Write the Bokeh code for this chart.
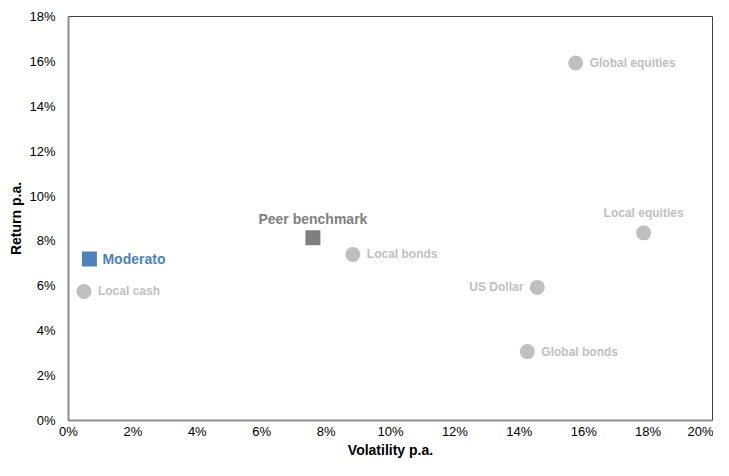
from bokeh.plotting import figure
from bokeh.models import ColumnDataSource, Range1d, PrintfTickFormatter, FixedTicker
from bokeh.embed import file_html
from bokeh.resources import INLINE
from bokeh.core.properties import value

# ---- data (percent) ----
asset_names = ["Local cash", "Local bonds", "Global equities", "Local equities", "US Dollar", "Global bonds"]
asset_vol = [0.48, 8.83, 15.75, 17.86, 14.56, 14.25]
asset_ret = [5.75, 7.40, 15.93, 8.36, 5.93, 3.07]

fund_name = ["Moderato"]
fund_vol = [0.65]
fund_ret = [7.20]

peer_name = ["Peer benchmark"]
peer_vol = [7.59]
peer_ret = [8.14]

x_ticks = [0, 2, 4, 6, 8, 10, 12, 14, 16, 18, 20]
y_ticks = [0, 2, 4, 6, 8, 10, 12, 14, 16, 18]

# ---- label placement (style) ----
label_place = {
    "Local cash": ("left", 14, 0),
    "Local bonds": ("left", 14, 0),
    "Global equities": ("left", 14, 0),
    "Local equities": ("center", 0, -20),
    "US Dollar": ("right", -14, 0),
    "Global bonds": ("left", 14, 0),
}

FONT = "Liberation Sans"

p = figure(width=713, height=460, output_backend="svg", toolbar_location=None,
           x_range=Range1d(0, 20), y_range=Range1d(0, 18),
           min_border_left=68, min_border_right=1, min_border_top=16, min_border_bottom=35)
p.background_fill_color = "white"
p.border_fill_color = "white"
p.outline_line_color = "#404040"
p.outline_line_width = 1
p.xgrid.visible = False
p.ygrid.visible = False

for ax, ticks in ((p.xaxis, x_ticks), (p.yaxis, y_ticks)):
    ax.ticker = FixedTicker(ticks=ticks)
    ax.formatter = PrintfTickFormatter(format="%d%%")
    ax.major_tick_line_color = None
    ax.minor_tick_line_color = None
    ax.major_tick_out = 0
    ax.major_tick_in = 0
    ax.axis_line_color = "#8C8C8C"
    ax.axis_line_width = 2
    ax.major_label_text_font = FONT
    ax.major_label_text_font_size = "13px"
    ax.major_label_text_color = "#000000"
    ax.axis_label_text_font = FONT
    ax.axis_label_text_font_size = "14px"
    ax.axis_label_text_font_style = "bold"
    ax.axis_label_text_color = "#000000"

p.xaxis.axis_label = "Volatility p.a."
p.yaxis.axis_label = "Return p.a."
p.xaxis.major_label_standoff = 3
p.yaxis.major_label_standoff = 13
p.xaxis.axis_label_standoff = 0
p.yaxis.axis_label_standoff = 2

# assets
asrc = ColumnDataSource(dict(
    x=asset_vol, y=asset_ret, name=asset_names,
    align=[label_place[n][0] for n in asset_names],
    xo=[label_place[n][1] for n in asset_names],
    yo=[label_place[n][2] for n in asset_names],
))
p.scatter("x", "y", source=asrc, marker="circle", size=15, fill_color="#BFBFBF", line_color=None)
p.text("x", "y", text="name", source=asrc, text_align="align", x_offset="xo", y_offset="yo",
       text_baseline="middle", text_font=value(FONT), text_font_size="12px",
       text_font_style="bold", text_color="#BFBFBF")

# fund
fsrc = ColumnDataSource(dict(x=fund_vol, y=fund_ret, name=fund_name))
p.scatter("x", "y", source=fsrc, marker="square", size=15, fill_color="#4F81BD", line_color=None)
p.text("x", "y", text="name", source=fsrc, text_align="left", x_offset=13,
       text_baseline="middle", text_font=value(FONT), text_font_size="14px",
       text_font_style="bold", text_color="#4F81BD")

# peer
psrc = ColumnDataSource(dict(x=peer_vol, y=peer_ret, name=peer_name))
p.scatter("x", "y", source=psrc, marker="square", size=15, fill_color="#7F7F7F", line_color=None)
p.text("x", "y", text="name", source=psrc, text_align="center", y_offset=-19,
       text_baseline="middle", text_font=value(FONT), text_font_size="14px",
       text_font_style="bold", text_color="#7F7F7F")

open("out.html", "w").write(file_html(p, INLINE))
